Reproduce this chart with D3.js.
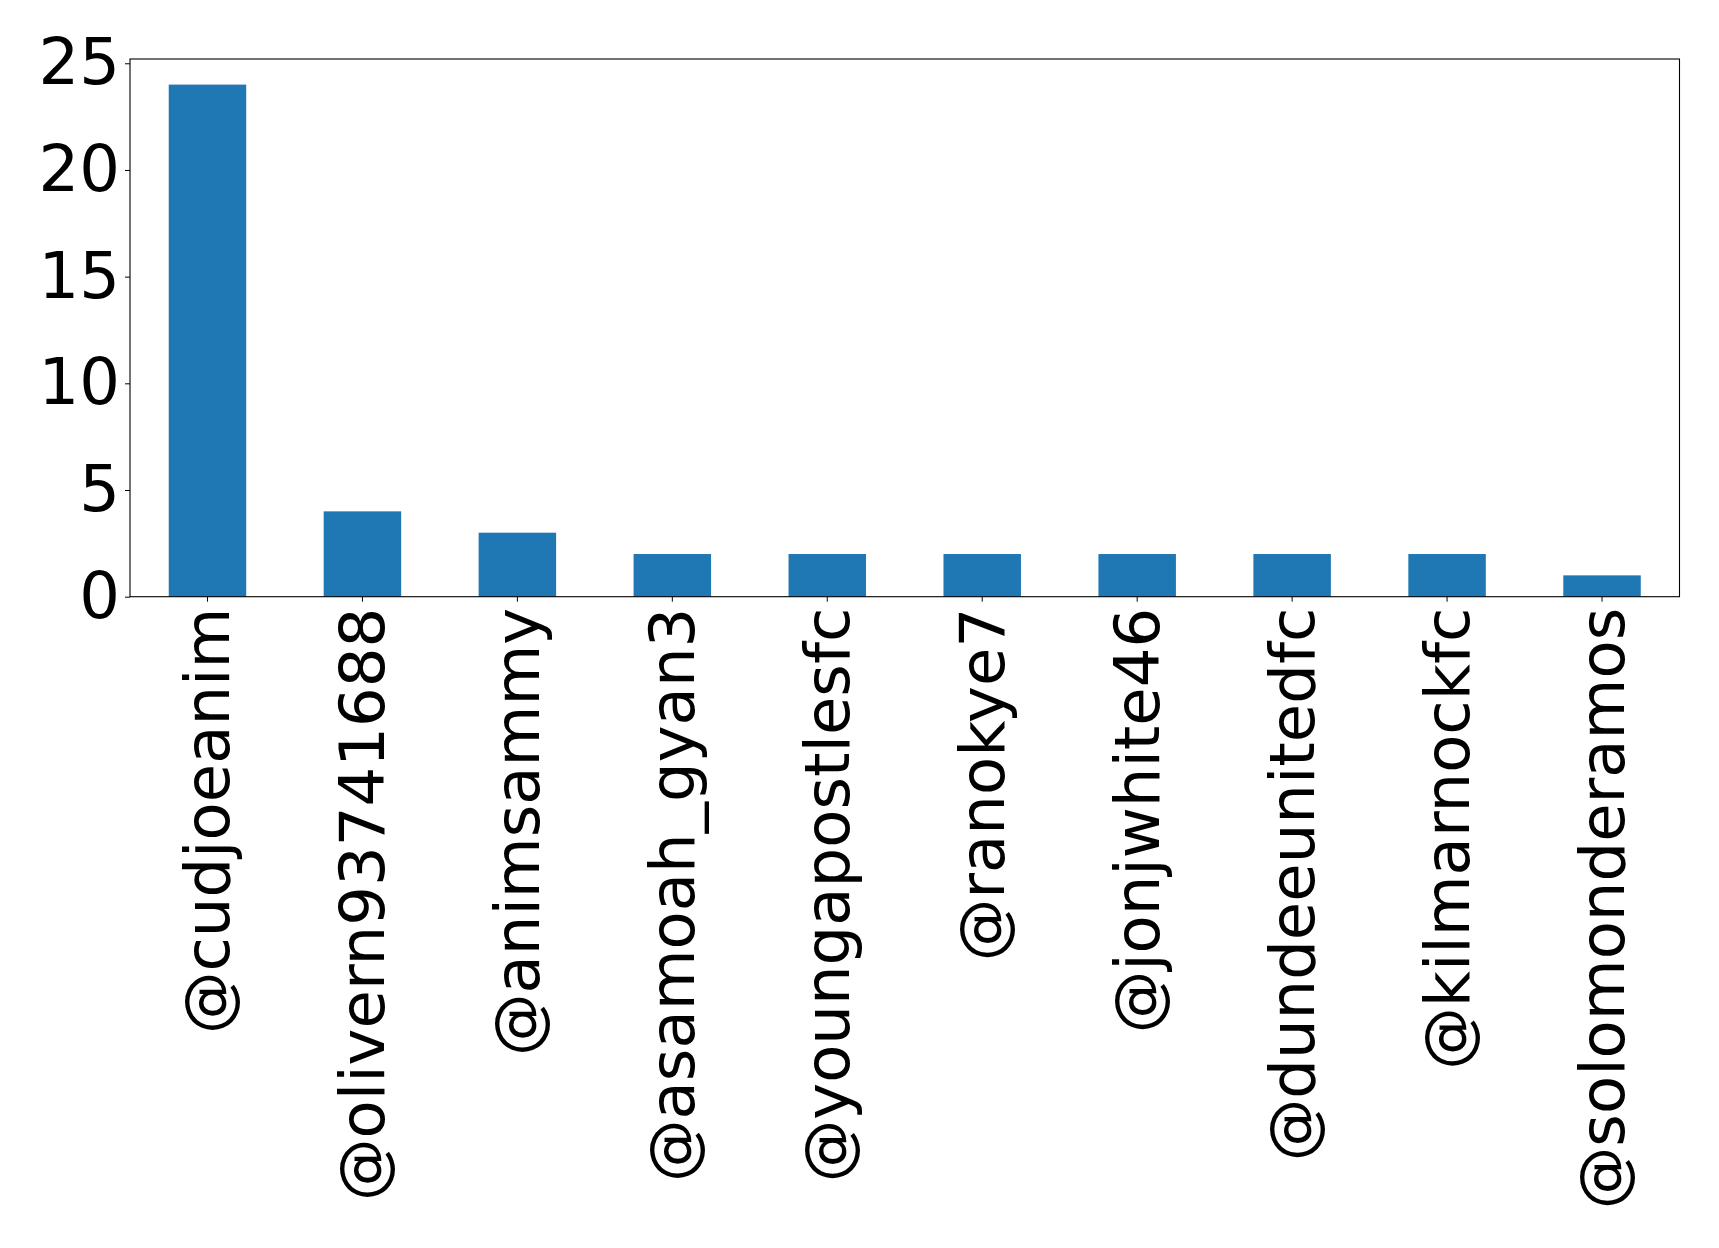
<!DOCTYPE html>
<html>
<head>
<meta charset="utf-8">
<script src="https://cdn.jsdelivr.net/npm/d3@7"></script>
<style>
  body { margin: 0; background: #fff; }
  text { font-family: "DejaVu Sans", sans-serif; }
</style>
</head>
<body>
<script>
// data
var names = ["@cudjoeanim", "@olivern93741688", "@animsammy", "@asamoah_gyan3", "@youngapostlesfc",
             "@ranokye7", "@jonjwhite46", "@dundeeunitedfc", "@kilmarnockfc", "@solomonderamos"];
var counts = [24, 4, 3, 2, 2, 2, 2, 2, 2, 1];
var yTicks = [0, 5, 10, 15, 20, 25];

var W = 1719, H = 1248;
var margin = {top: 59, right: 40, bottom: 651, left: 130};
var w = 1679.5 - margin.left;
var h = 596.7 - margin.top;
var fontSize = '62.5px';

var svg = d3.select('body').append('svg')
    .attr('width', W)
    .attr('height', H)
    .append('g')
    .attr('transform', 'translate(' + margin.left + ',' + margin.top + ')');

var xScale = d3.scaleBand()
    .domain(names)
    .range([0, w])
    .paddingInner(0.5)
    .paddingOuter(0.25);

var yScale = d3.scaleLinear()
    .domain([0, 25.2])
    .range([h, 0]);

svg.selectAll('rect.bar')
    .data(counts)
    .enter()
    .append('rect')
    .attr('class', 'bar')
    .attr('x', function (d, i) { return xScale(names[i]); })
    .attr('y', function (d) { return yScale(d); })
    .attr('width', xScale.bandwidth())
    .attr('height', function (d) { return h - yScale(d); })
    .attr('fill', '#1f77b4');

// frame
svg.append('rect')
    .attr('width', w)
    .attr('height', h)
    .attr('fill', 'none')
    .attr('stroke', '#000')
    .attr('stroke-width', 1.1);

var yAxis = d3.axisLeft(yScale)
    .tickValues(yTicks)
    .tickSize(5)
    .tickPadding(5);

var gy = svg.append('g').call(yAxis);
gy.select('.domain').remove();
gy.selectAll('text').style('font-size', '64px').attr('fill', '#000');
gy.selectAll('line').attr('stroke', '#000');

var xAxis = d3.axisBottom(xScale)
    .tickSize(5)
    .tickPadding(5);

var gx = svg.append('g')
    .attr('transform', 'translate(0,' + h + ')')
    .call(xAxis);
gx.select('.domain').remove();
gx.selectAll('line').attr('stroke', '#000');
gx.selectAll('text')
    .style('font-size', fontSize)
    .attr('fill', '#000')
    .attr('transform', 'rotate(-90)')
    .attr('x', -11)
    .attr('y', 0)
    .attr('dy', '0.35em')
    .style('text-anchor', 'end');
</script>
</body>
</html>
